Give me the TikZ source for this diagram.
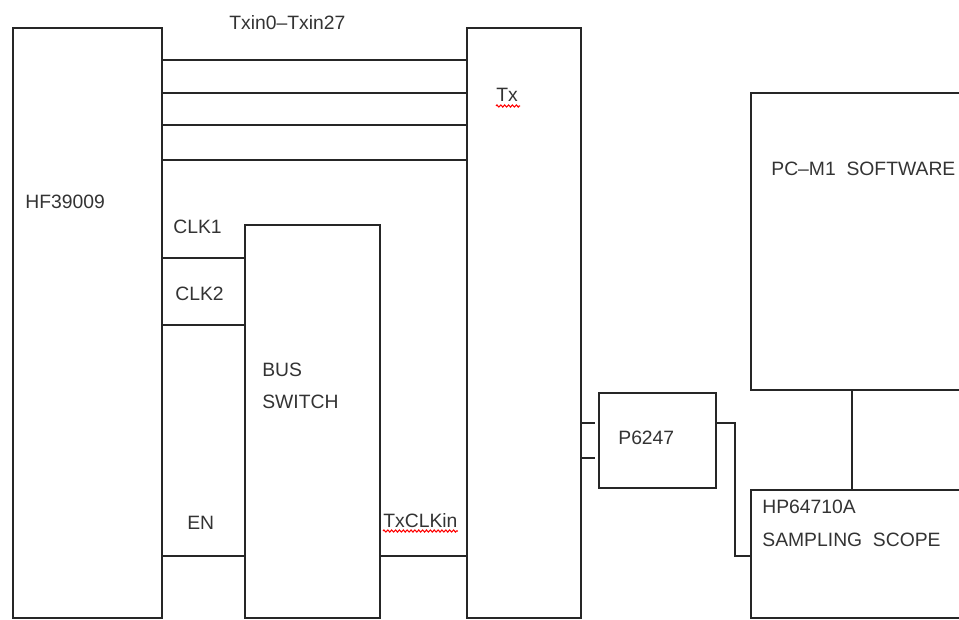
\documentclass[tikz,border=0pt]{standalone}
\usepackage{fontspec}
\setmainfont{Liberation Sans}
\usetikzlibrary{fit,decorations.pathmorphing}

\begin{document}
\begin{tikzpicture}[
  x=0.02cm, y=-0.02cm,
  font=\fontsize{11}{13}\selectfont,
  box/.style={draw=black!85, line width=1pt, inner sep=0pt},
  wire/.style={draw=black!85, line width=1pt},
  lbl/.style={anchor=base west, inner sep=0pt, text=black!80},
  squig/.style={red, line width=0.6pt, decorate, decoration={zigzag, amplitude=0.6pt, segment length=2.2pt}}
]
\useasboundingbox (0,0) rectangle (959,619);
\clip (0,0) rectangle (959,619);

% boxes
\node[box, fit={(13,28) (162,618)}] (hf) {};
\node[box, fit={(467,28) (581,618)}] (tx) {};
\node[box, fit={(245,225) (380,618)}] (bs) {};
\node[box, fit={(599,393) (716,488)}] (probe) {};
\node[box, fit={(751,93) (990,390)}] (pc) {};
\node[box, fit={(751,490) (990,618)}] (scope) {};

% labels
\node[lbl] (buslbl) at (229,29) {Txin0–Txin27};
\node[lbl] (hflbl) at (25,208) {HF39009};
\node[lbl] (clka) at (173,233) {CLK1};
\node[lbl] (clkb) at (175,300) {CLK2};
\node[lbl] (enlbl) at (187,529) {EN};
\node[lbl] (bslbl) at (262,376) {BUS};
\node[lbl] (bslblb) at (262,408) {SWITCH};
\node[lbl] (txclk) at (383,527) {TxCLKin};
\node[lbl] (txlbl) at (496,101) {Tx};
\node[lbl] (probelbl) at (618,444) {P6247};
\node[lbl] (pclbl) at (771,175) {PC–M1\ \ SOFTWARE};
\node[lbl] (scopelbl) at (762,513) {HP64710A};
\node[lbl] (scopelblb) at (762,546) {SAMPLING\ \ SCOPE};

% spell-check marks
\draw[squig] (txlbl.base west) ++(0,5) -- ++(24,0);
\draw[squig] (txclk.base west) ++(0,4) -- (txclk.base east |- 0,531);

% connections
\foreach \y in {60,93,125,160}
  \draw[wire] (hf.east |- 0,\y) -- (tx.west |- 0,\y);
\foreach \y in {258,325,556}
  \draw[wire] (hf.east |- 0,\y) -- (bs.west |- 0,\y);
\draw[wire] (bs.east |- 0,556) -- (tx.west |- 0,556);
\foreach \y in {423,458}
  \draw[wire, shorten >=0.06cm] (tx.east |- 0,\y) -- (probe.west |- 0,\y);
\draw[wire] (probe.east |- 0,423) -- (735,423) -- (735,556) -- (scope.west |- 0,556);
\draw[wire] (pc.south -| 852,0) -- (scope.north -| 852,0);

\end{tikzpicture}
\end{document}
